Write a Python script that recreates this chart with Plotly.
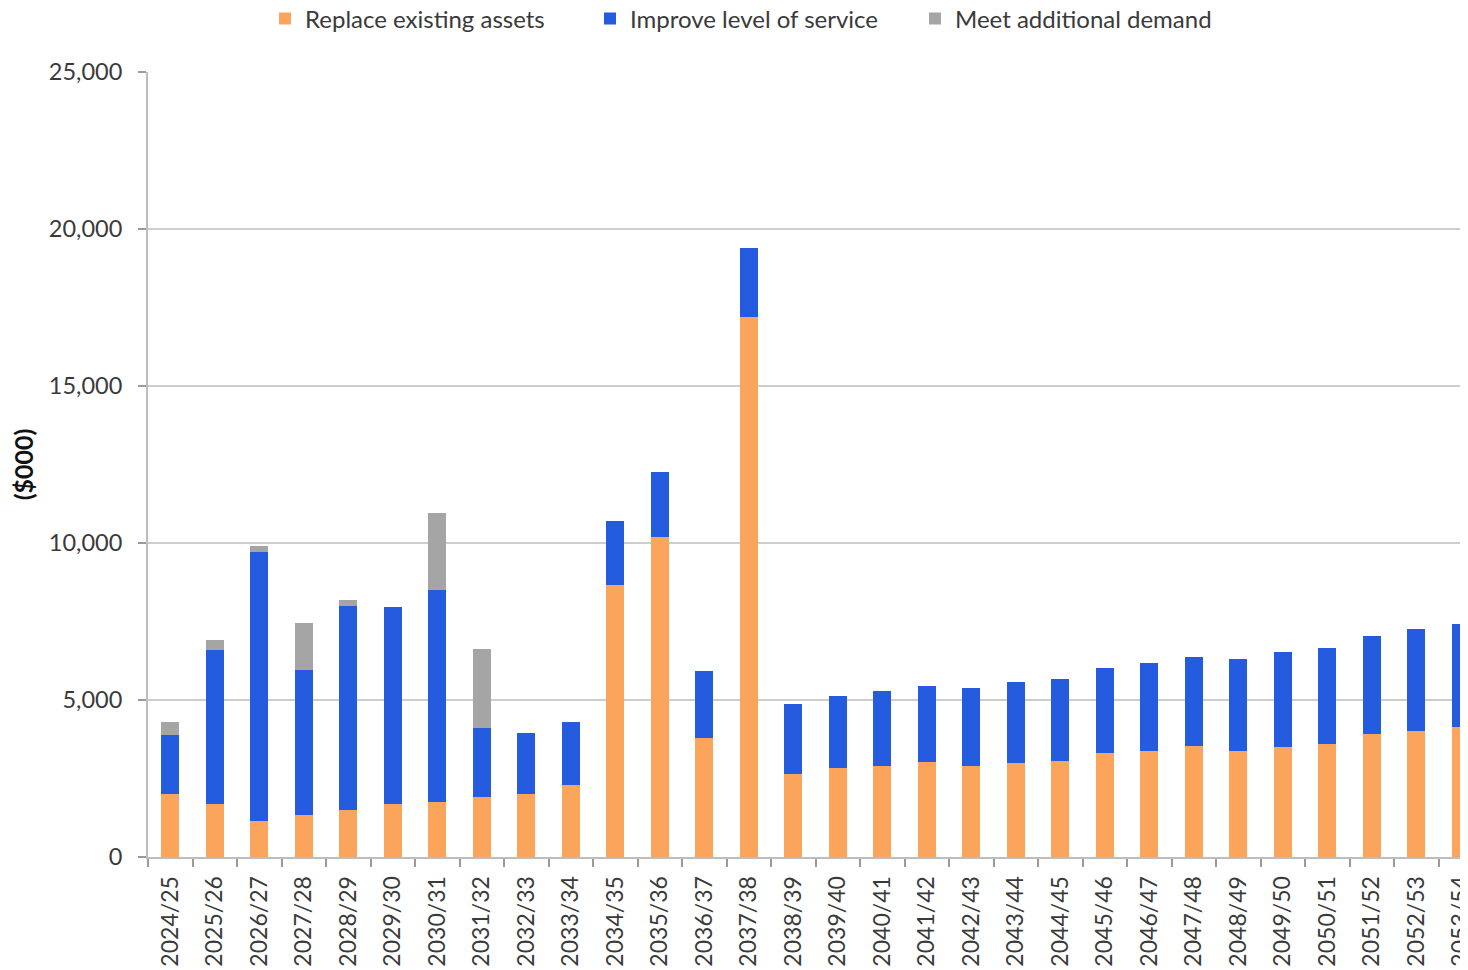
import plotly.graph_objects as go

years = ["2024/25", "2025/26", "2026/27", "2027/28", "2028/29", "2029/30", "2030/31",
         "2031/32", "2032/33", "2033/34", "2034/35", "2035/36", "2036/37", "2037/38",
         "2038/39", "2039/40", "2040/41", "2041/42", "2042/43", "2043/44", "2044/45",
         "2045/46", "2046/47", "2047/48", "2048/49", "2049/50", "2050/51", "2051/52",
         "2052/53", "2053/54"]

replace_existing = [2000, 1700, 1150, 1350, 1500, 1700, 1750, 1900, 2000, 2300,
                    8650, 10180, 3800, 17190, 2640, 2840, 2910, 3010, 2910, 3000,
                    3070, 3320, 3390, 3540, 3390, 3490, 3600, 3910, 4010, 4130]

improve_service = [1900, 4900, 8550, 4600, 6500, 6270, 6750, 2200, 1960, 1990,
                   2050, 2070, 2130, 2200, 2220, 2300, 2390, 2440, 2480, 2560,
                   2600, 2710, 2800, 2820, 2910, 3030, 3070, 3130, 3240, 3290]

additional_demand = [400, 300, 200, 1500, 200, 0, 2450, 2520, 0, 0,
                     0, 0, 0, 0, 0, 0, 0, 0, 0, 0,
                     0, 0, 0, 0, 0, 0, 0, 0, 0, 0]

y_ticks = [0, 5000, 10000, 15000, 20000, 25000]

FONT = "Lato, 'Open Sans', sans-serif"
TXT = "#3a3a3a"
GRID = "#cdcdcd"

W, H = 1460, 962  # page body has an 8px margin

fig = go.Figure()
fig.add_trace(go.Bar(x=years, y=replace_existing, name="Replace existing assets",
                     marker=dict(color="#FBA55C", line=dict(width=0))))
fig.add_trace(go.Bar(x=years, y=improve_service, name="Improve level of service",
                     marker=dict(color="#255BDE", line=dict(width=0))))
fig.add_trace(go.Bar(x=years, y=additional_demand, name="Meet additional demand",
                     marker=dict(color="#A5A5A5", line=dict(width=0))))

fig.update_layout(
    width=W, height=H,
    barmode="stack",
    bargap=0.6,
    plot_bgcolor="white",
    paper_bgcolor="white",
    margin=dict(l=140, r=0, t=64, b=113, autoexpand=False),
    font=dict(family=FONT, color=TXT, size=22),
    showlegend=True,
    legend=dict(orientation="h", xref="container", x=257 / W, xanchor="left",
                yref="container", y=1 - 11 / H, yanchor="middle",
                font=dict(size=24, color=TXT), traceorder="normal",
                entrywidth=280, entrywidthmode="pixels"),
    xaxis=dict(type="category", range=[-0.5, 29.16], tickangle=-90,
               tickfont=dict(size=23, color=TXT, family=FONT),
               ticklabelstandoff=8,
               showline=True, linecolor="#bdbdbd", linewidth=2,
               ticks="outside", tickson="boundaries", ticklen=8, tickcolor="#9a9a9a",
               tickwidth=2, showgrid=False, automargin=False, fixedrange=True),
    yaxis=dict(range=[0, 25000], tickvals=y_ticks, tickformat=",d",
               tickfont=dict(size=23.5, color=TXT, family=FONT),
               showline=True, linecolor="#bdbdbd", linewidth=2,
               ticks="outside", ticklen=8, tickcolor="#9a9a9a", tickwidth=2,
               ticklabelstandoff=11,
               showgrid=True, gridcolor=GRID, gridwidth=2, zeroline=False,
               title=dict(text="<b>($000)</b>", font=dict(size=25, color="#111111", family=FONT),
                          standoff=10),
               automargin=False, fixedrange=True),
)

fig.write_html("out.html")
